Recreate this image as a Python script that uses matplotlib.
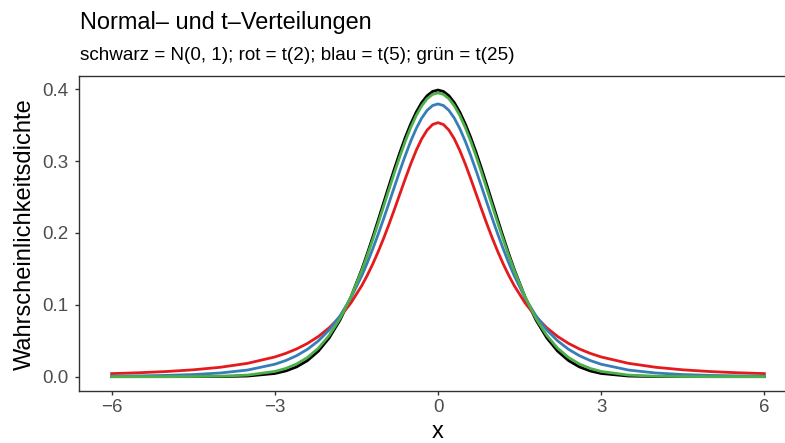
import matplotlib
matplotlib.use("Agg")
import matplotlib.pyplot as plt

plt.rcParams['font.family'] = ['Liberation Sans', 'DejaVu Sans']

# x grid and density values
x_vals = [-6.0, -5.5, -5.0, -4.5, -4.0, -3.5, -3.0, -2.8, -2.6, -2.4, -2.2, -2.0,
          -1.8, -1.6, -1.4, -1.3, -1.2, -1.1, -1.0, -0.9, -0.8, -0.7, -0.6, -0.5,
          -0.4, -0.3, -0.2, -0.1, 0.0, 0.1, 0.2, 0.3, 0.4, 0.5, 0.6, 0.7, 0.8, 0.9,
          1.0, 1.1, 1.2, 1.3, 1.4, 1.6, 1.8, 2.0, 2.2, 2.4, 2.6, 2.8, 3.0, 3.5,
          4.0, 4.5, 5.0, 5.5, 6.0]

dens_norm = [0.0, 0.0, 0.0, 0.00002, 0.00013, 0.00087, 0.00443, 0.00792, 0.01358,
             0.02239, 0.03547, 0.05399, 0.07895, 0.11092, 0.14973, 0.17137, 0.19419,
             0.21785, 0.24197, 0.26609, 0.28969, 0.31225, 0.33322, 0.35207, 0.36827,
             0.38139, 0.39104, 0.39695, 0.39894, 0.39695, 0.39104, 0.38139, 0.36827,
             0.35207, 0.33322, 0.31225, 0.28969, 0.26609, 0.24197, 0.21785, 0.19419,
             0.17137, 0.14973, 0.11092, 0.07895, 0.05399, 0.03547, 0.02239, 0.01358,
             0.00792, 0.00443, 0.00087, 0.00013, 0.00002, 0.0, 0.0, 0.0]

dens_t2 = [0.00427, 0.00546, 0.00713, 0.00953, 0.01309, 0.01859, 0.02741, 0.03240,
           0.03857, 0.04626, 0.05590, 0.06804, 0.08337, 0.10270, 0.12690, 0.14108,
           0.15673, 0.17388, 0.19245, 0.21230, 0.23313, 0.25451, 0.27582, 0.29630,
           0.31501, 0.33096, 0.34321, 0.35092, 0.35355, 0.35092, 0.34321, 0.33096,
           0.31501, 0.29630, 0.27582, 0.25451, 0.23313, 0.21230, 0.19245, 0.17388,
           0.15673, 0.14108, 0.12690, 0.10270, 0.08337, 0.06804, 0.05590, 0.04626,
           0.03857, 0.03240, 0.02741, 0.01859, 0.01309, 0.00953, 0.00713, 0.00546,
           0.00427]

dens_t5 = [0.00069, 0.00108, 0.00176, 0.00295, 0.00512, 0.00924, 0.01729, 0.02241,
           0.02917, 0.03809, 0.04981, 0.06509, 0.08481, 0.10982, 0.14074, 0.15848,
           0.17766, 0.19813, 0.21968, 0.24195, 0.26449, 0.28678, 0.30813, 0.32792,
           0.34538, 0.35982, 0.37064, 0.37734, 0.37961, 0.37734, 0.37064, 0.35982,
           0.34538, 0.32792, 0.30813, 0.28678, 0.26449, 0.24195, 0.21968, 0.19813,
           0.17766, 0.15848, 0.14074, 0.10982, 0.08481, 0.06509, 0.04981, 0.03809,
           0.02917, 0.02241, 0.01729, 0.00924, 0.00512, 0.00295, 0.00176, 0.00108,
           0.00069]

dens_t25 = [0.0, 0.00001, 0.00005, 0.00018, 0.00064, 0.00221, 0.00725, 0.01139,
            0.01760, 0.02667, 0.03957, 0.05735, 0.08101, 0.11121, 0.14805, 0.16874,
            0.19071, 0.21365, 0.23721, 0.26093, 0.28434, 0.30688, 0.32797, 0.34704,
            0.36353, 0.37694, 0.38684, 0.39291, 0.39496, 0.39291, 0.38684, 0.37694,
            0.36353, 0.34704, 0.32797, 0.30688, 0.28434, 0.26093, 0.23721, 0.21365,
            0.19071, 0.16874, 0.14805, 0.11121, 0.08101, 0.05735, 0.03957, 0.02667,
            0.01760, 0.01139, 0.00725, 0.00221, 0.00064, 0.00018, 0.00005, 0.00001,
            0.0]

x_ticks = [-6, -3, 0, 3, 6]
y_ticks = [0.0, 0.1, 0.2, 0.3, 0.4]

fig = plt.figure(figsize=(7.85, 4.43), dpi=100)
# panel runs past the right edge like in the reference crop
ax = fig.add_axes([79 / 785, 52 / 443, 718 / 785, 315.3 / 443])

lw = 2.0
ax.plot(x_vals, dens_norm, color='black', lw=lw)
ax.plot(x_vals, dens_t2, color='#E41A1C', lw=lw)
ax.plot(x_vals, dens_t5, color='#377EB8', lw=lw)
ax.plot(x_vals, dens_t25, color='#4DAF4A', lw=lw)

ax.set_xlim(-6.6, 6.6)
ax.set_ylim(-0.01995, 0.41889)
ax.set_xticks(x_ticks)
ax.set_xticklabels([str(t).replace('-', '\u2212') for t in x_ticks])
ax.set_yticks(y_ticks)
ax.set_yticklabels([f"{t:.1f}" for t in y_ticks])

for s in ax.spines.values():
    s.set_color('#333333')
    s.set_linewidth(1.0)
ax.tick_params(axis='both', colors='#333333', length=2.75, width=1.0,
               labelsize=13.5, labelcolor='#4D4D4D')
ax.tick_params(axis='x', pad=3)
ax.tick_params(axis='y', pad=5)

fig.text(438 / 785, 1 - 437.5 / 443, 'x', fontsize=17, ha='center', va='baseline')
fig.text(25 / 785, 1 - 234 / 443, 'Wahrscheinlichkeitsdichte', fontsize=17,
         rotation=90, ha='center', va='center')

fig.text(80 / 785, 1 - 29 / 443, 'Normal\u2013 und t\u2013Verteilungen',
         fontsize=16.9, ha='left', va='baseline')
fig.text(80 / 785, 1 - 60 / 443,
         'schwarz = N(0, 1); rot = t(2); blau = t(5); gr\u00fcn = t(25)',
         fontsize=13.6, ha='left', va='baseline')

fig.savefig('out.png', dpi=100)
